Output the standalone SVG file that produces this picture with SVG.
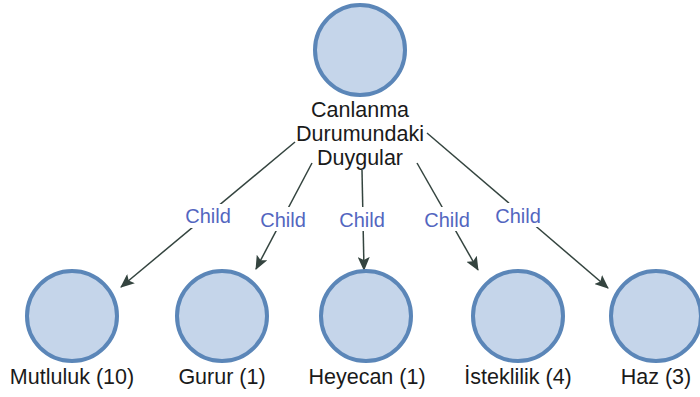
<svg xmlns="http://www.w3.org/2000/svg" width="700" height="397" viewBox="0 0 700 397">
<style>
.node{fill:#c5d5ea;stroke:#5b86b8;stroke-width:4}
.lbl{font-family:"Liberation Sans",Arial,sans-serif;font-size:21.5px;fill:#1a1a1a;text-anchor:middle}
.edge{stroke:#34443f;stroke-width:1.5;fill:none;marker-end:url(#arr)}
.el{font-family:"Liberation Sans",Arial,sans-serif;font-size:20px;fill:#5366bf;text-anchor:middle}
.bg{fill:#ffffff}
</style>
<defs>
<marker id="arr" markerUnits="userSpaceOnUse" markerWidth="14" markerHeight="12" refX="13" refY="6" orient="auto">
<path d="M0,0 L14,6 L0,12 L3,6 z" fill="#34443f"/>
</marker>
</defs>
<rect width="700" height="397" fill="#ffffff"/>
<g id="connectors">
<line class="edge" x1="295" y1="142" x2="121" y2="287"/>
<line class="edge" x1="312" y1="163" x2="256" y2="269"/>
<line class="edge" x1="362" y1="170" x2="364" y2="270"/>
<line class="edge" x1="417" y1="163" x2="478" y2="270"/>
<line class="edge" x1="427" y1="133" x2="608" y2="288"/>
<rect class="bg" x="182" y="204" width="52" height="24"/>
<rect class="bg" x="257" y="207" width="52" height="24"/>
<rect class="bg" x="336" y="207" width="52" height="24"/>
<rect class="bg" x="421" y="207" width="52" height="24"/>
<rect class="bg" x="492" y="203" width="52" height="24"/>
<text class="el" x="208" y="223">Child</text>
<text class="el" x="283" y="227">Child</text>
<text class="el" x="362" y="227">Child</text>
<text class="el" x="447" y="227">Child</text>
<text class="el" x="518" y="223">Child</text>
</g>
<g id="root">
<circle class="node" cx="360" cy="50" r="45"/>
<text class="lbl" x="360" y="117">Canlanma</text>
<text class="lbl" x="360" y="141">Durumundaki</text>
<text class="lbl" x="360" y="165">Duygular</text>
</g>
<g id="mutluluk">
<circle class="node" cx="72" cy="316" r="45"/>
<text class="lbl" x="72" y="384">Mutluluk (10)</text>
</g>
<g id="gurur">
<circle class="node" cx="222" cy="316" r="45"/>
<text class="lbl" x="222" y="384">Gurur (1)</text>
</g>
<g id="heyecan">
<circle class="node" cx="366" cy="316" r="45"/>
<text class="lbl" x="367" y="384">Heyecan (1)</text>
</g>
<g id="isteklilik">
<circle class="node" cx="518" cy="316" r="45"/>
<text class="lbl" x="518" y="384">İsteklilik (4)</text>
</g>
<g id="haz">
<circle class="node" cx="656" cy="316" r="45"/>
<text class="lbl" x="656" y="384">Haz (3)</text>
</g>
</svg>
